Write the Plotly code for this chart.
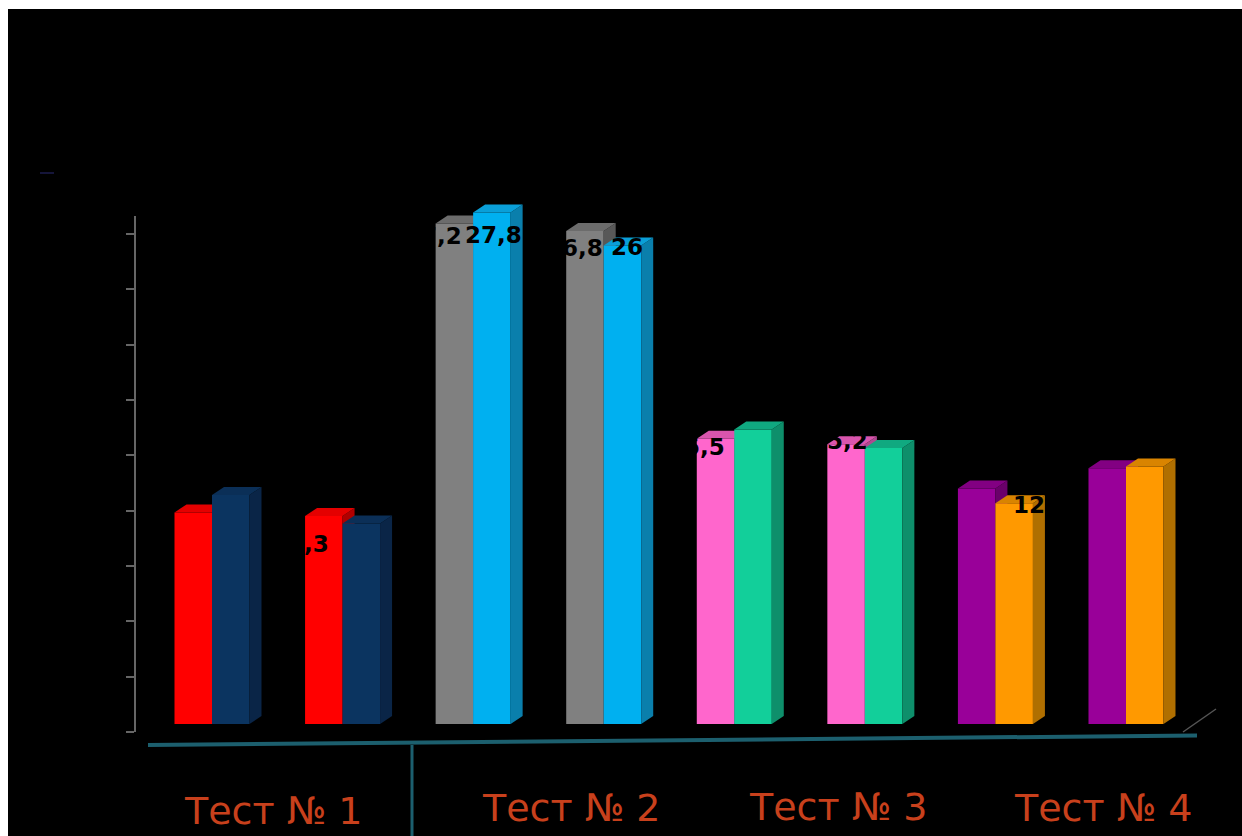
import plotly.graph_objects as go

# Data
categories = list(range(8))
series_left = [11.5, 11.3, 27.2, 26.8, 15.5, 15.2, 12.8, 13.9]
series_right = [12.45, 10.9, 27.8, 26.0, 16.0, 15.0, 12.0, 14.0]
group_labels = ["Тест № 1", "Тест № 2", "Тест № 3", "Тест № 4"]
axis_ticks = [0, 3, 6, 9, 12, 15, 18, 21, 24, 27]

# Style
left_front = ["#ff0000", "#ff0000", "#808080", "#808080", "#ff66cc", "#ff66cc", "#990099", "#990099"]
left_top = ["#e40000", "#e40000", "#6c6c6c", "#6c6c6c", "#d955ad", "#d955ad", "#820082", "#820082"]
left_side = ["#b00000", "#b00000", "#585858", "#585858", "#b04890", "#b04890", "#6a006a", "#6a006a"]
right_front = ["#0b3460", "#0b3460", "#00b0f0", "#00b0f0", "#12cf9a", "#12cf9a", "#ff9900", "#ff9900"]
right_top = ["#0b2f57", "#0b2f57", "#0a9fd8", "#0a9fd8", "#10a980", "#10a980", "#d98400", "#d98400"]
right_side = ["#0a2547", "#0a2547", "#0a7fac", "#0a7fac", "#0e8f6b", "#0e8f6b", "#b06f00", "#b06f00"]

W, H = 1242, 836
PAGE = 0
STEP = 130.57          # px per category
C0 = 212               # page x of first category centre
UNIT = 18.4            # px per value unit
BASE = 724             # page y of value 0
BAR_W = 37.5 / STEP
DX, DY = 12 / STEP, 8 / UNIT

xr = [(PAGE - C0) / STEP, (PAGE + W - C0) / STEP]
yr = [(BASE - (PAGE + H)) / UNIT, (BASE - PAGE) / UNIT]


def px(x):
    return (x - PAGE) / W


def py(y):
    return 1 - (y - PAGE) / H


fig = go.Figure()


def faces(value, x0, x1, top, side, xa, ya):
    fig.add_trace(go.Scatter(
        x=[x1, x1 + DX, x1 + DX, x1, x1], y=[0, DY, value + DY, value, 0],
        mode="lines", fill="toself", fillcolor=side, line=dict(width=0),
        hoverinfo="skip", showlegend=False, xaxis=xa, yaxis=ya))
    fig.add_trace(go.Scatter(
        x=[x0, x1, x1 + DX, x0 + DX, x0], y=[value, value, value + DY, value + DY, value],
        mode="lines", fill="toself", fillcolor=top, line=dict(width=0),
        hoverinfo="skip", showlegend=False, xaxis=xa, yaxis=ya))


fig.add_trace(go.Bar(x=categories, y=series_left, width=BAR_W, offset=-BAR_W,
                     marker=dict(color=left_front, line=dict(width=0)),
                     showlegend=False, xaxis="x", yaxis="y"))
for i, v in zip(categories, series_left):
    faces(v, i - BAR_W, i, left_top[i], left_side[i], "x", "y")

fig.add_trace(go.Bar(x=categories, y=series_right, width=BAR_W, offset=0,
                     marker=dict(color=right_front, line=dict(width=0)),
                     showlegend=False, xaxis="x2", yaxis="y2"))
for i, v in zip(categories, series_right):
    faces(v, i, i + BAR_W, right_top[i], right_side[i], "x2", "y2")

# carrier for the value axis
fig.add_trace(go.Scatter(x=[None], y=[None], xaxis="x", yaxis="y3", showlegend=False, hoverinfo="skip"))

hidden = dict(visible=False, fixedrange=True)
fig.update_layout(
    width=W, height=H, autosize=False,
    margin=dict(l=0, r=0, t=0, b=0),
    paper_bgcolor="white", plot_bgcolor="rgba(0,0,0,0)",
    barmode="overlay",
    xaxis=dict(range=xr, domain=[0, 1], **hidden),
    yaxis=dict(range=yr, domain=[0, 1], **hidden),
    xaxis2=dict(range=xr, overlaying="x", **hidden),
    yaxis2=dict(range=yr, overlaying="y", **hidden),
    yaxis3=dict(range=[0, 28], domain=[py(732), py(215.7)], anchor="free", position=px(135),
                tickmode="array", tickvals=axis_ticks, ticks="outside", ticklen=8, tickwidth=1.5,
                tickcolor="#666666", showline=True, linecolor="#666666", linewidth=2,
                showgrid=False, zeroline=False, showticklabels=False, fixedrange=True),
)

teal = "#1c5f6e"
shapes = [
    dict(type="rect", xref="paper", yref="paper", layer="below", x0=px(8), y0=0, x1=1, y1=py(9),
         fillcolor="black", line=dict(width=0)),
    dict(type="line", xref="paper", yref="paper", x0=px(148), y0=py(745), x1=px(1197), y1=py(735.5),
         line=dict(color=teal, width=4)),
    dict(type="line", xref="paper", yref="paper", x0=px(412), y0=py(745), x1=px(412), y1=0,
         line=dict(color=teal, width=3)),
    dict(type="line", xref="paper", yref="paper", x0=px(1183), y0=py(732), x1=px(1216), y1=py(709),
         line=dict(color="#555555", width=1.5)),
    dict(type="line", xref="paper", yref="paper", x0=px(40), y0=py(173), x1=px(54), y1=py(173),
         line=dict(color="#15153a", width=2)),
]
fig.update_layout(shapes=shapes)

# Value labels: (series, category, text, x shift, y shift in px)
label_spec = [
    ("l", 1, "11,3", -23.5, -28),
    ("l", 2, "27,2", -21, -12.5),
    ("r", 2, "27,8", 2, -22.5),
    ("l", 3, "26,8", -10.5, -17),
    ("r", 3, "26", 5, -1),
    ("l", 4, "15,5", -19.5, -8),
    ("l", 5, "15,2", -7, 3),
    ("r", 6, "12", 14.5, -2),
]
for s, c, t, sx, sy in label_spec:
    v = series_left[c] if s == "l" else series_right[c]
    xc = c - BAR_W / 2 if s == "l" else c + BAR_W / 2
    fig.add_annotation(x=xc, y=v, xref="x", yref="y", text=f"<b>{t}</b>", showarrow=False,
                       xanchor="center", yanchor="middle", xshift=sx, yshift=sy,
                       font=dict(family="DejaVu Sans", size=23, color="black"))

# Group captions
caption_pos = [(273, 811), (571, 808), (838, 807), (1103, 808)]
for t, (cx, cy) in zip(group_labels, caption_pos):
    fig.add_annotation(x=px(cx), y=py(cy), xref="paper", yref="paper", text=t, showarrow=False,
                       xanchor="center", yanchor="middle",
                       font=dict(family="DejaVu Sans", size=38, color="#c8401c"))

fig.write_html("out.html", config=dict(displayModeBar=False),
               post_script="document.documentElement.style.overflow='hidden';document.body.style.overflow='hidden';document.body.style.margin='0';")
